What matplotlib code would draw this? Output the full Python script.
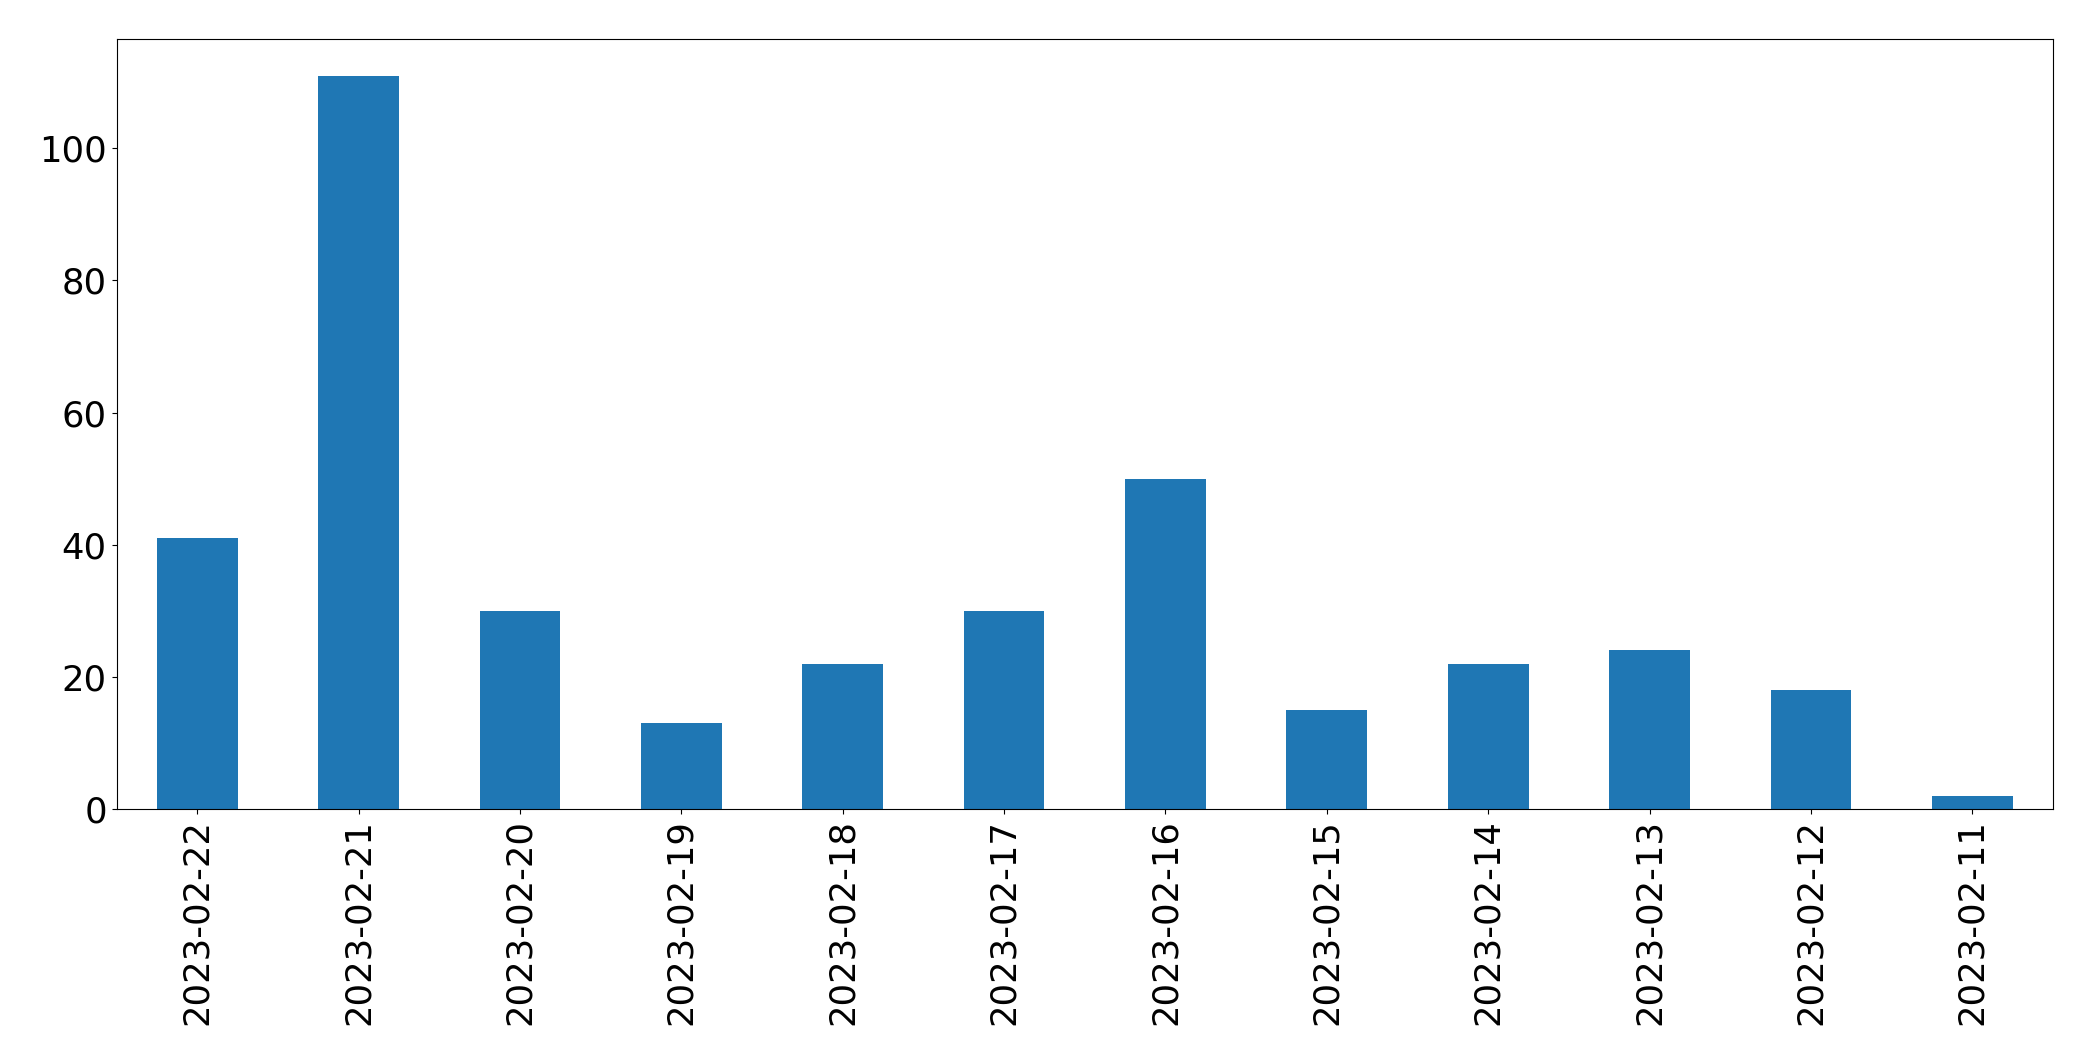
import matplotlib
matplotlib.use("Agg")
import matplotlib.pyplot as plt

dates = ["2023-02-22", "2023-02-21", "2023-02-20", "2023-02-19", "2023-02-18", "2023-02-17",
         "2023-02-16", "2023-02-15", "2023-02-14", "2023-02-13", "2023-02-12", "2023-02-11"]
counts = [41, 111, 30, 13, 22, 30, 50, 15, 22, 24, 18, 2]

fig = plt.figure(figsize=(20.93, 10.61), dpi=100)
ax = fig.add_axes([116.5 / 2093, 1 - 809 / 1061, (2053 - 116.5) / 2093, (809 - 39) / 1061])
x = list(range(len(dates)))
ax.bar(x, counts, width=0.5, color="#1f77b4")
ax.set_xlim(-0.5, len(dates) - 0.5)
ax.set_ylim(0, max(counts) * 1.05)
ax.set_xticks(x)
ax.set_xticklabels(dates, rotation=90)
ax.set_yticks([0, 20, 40, 60, 80, 100])
ax.tick_params(labelsize=25.5)
fig.savefig("out.png", dpi=100)
